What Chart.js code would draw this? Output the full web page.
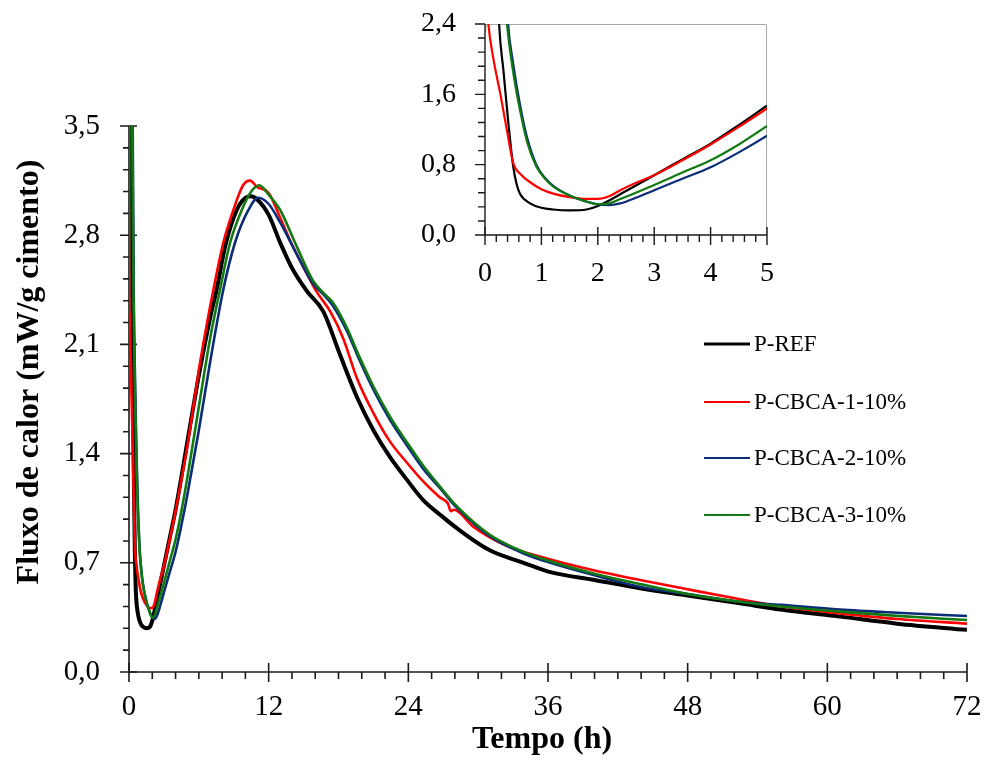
<!DOCTYPE html>
<html>
<head>
<meta charset="utf-8">
<script src="https://cdn.jsdelivr.net/npm/chart.js@4.4.1/dist/chart.umd.min.js"></script>
<style>
  html, body { margin: 0; padding: 0; background: #fff; }
  #wrap { position: relative; width: 986px; height: 774px; }
  #main { position: absolute; left: 0; top: 0; }
  #inset { position: absolute; left: 420px; top: 0; }
</style>
</head>
<body>
<div id="wrap">
  <canvas id="main" width="986" height="774"></canvas>
  <canvas id="inset" width="370" height="300"></canvas>
</div>
<script>
// ---- Data (time in hours, heat flow in mW/g cimento) ----
const seriesLabels = ['P-REF', 'P-CBCA-1-10%', 'P-CBCA-2-10%', 'P-CBCA-3-10%'];

const refT = [0.1, 0.25, 0.33, 0.41, 0.5, 0.56, 0.62, 0.8, 1.0, 1.21, 1.5, 1.8, 2.0, 2.5, 3.0, 3.5, 4.0, 4.5, 5.0, 6.0, 7.0, 7.5, 8.3, 9.25, 10.0, 10.5, 11.0, 12.0, 13.0, 14.0, 15.3, 16.7, 18.1, 19.6, 21.0, 22.4, 23.9, 25.3, 26.7, 28.2, 31.0, 33.9, 36.2, 40.0, 43.9, 48.0, 52.5, 56.0, 61.1, 66.0, 72.0];
const refV = [5.0, 2.4, 1.85, 1.3, 0.78, 0.58, 0.47, 0.36, 0.31, 0.29, 0.28, 0.29, 0.33, 0.50, 0.68, 0.86, 1.04, 1.25, 1.47, 1.90, 2.28, 2.44, 2.74, 2.96, 3.04, 3.05, 3.03, 2.93, 2.75, 2.59, 2.44, 2.31, 2.04, 1.76, 1.55, 1.38, 1.23, 1.10, 1.01, 0.92, 0.78, 0.70, 0.64, 0.59, 0.536, 0.49, 0.44, 0.40, 0.355, 0.31, 0.27];

const c1T = [0.0, 0.06, 0.15, 0.27, 0.4, 0.5, 0.65, 0.8, 1.0, 1.21, 1.5, 1.8, 2.0, 2.2, 2.4, 2.7, 3.0, 3.5, 4.0, 4.5, 5.0, 6.1, 7.25, 8.1, 8.96, 9.8, 10.4, 11.0, 12.0, 13.0, 14.0, 15.3, 16.1, 17.3, 18.4, 19.6, 21.0, 22.4, 23.9, 25.3, 26.7, 27.4, 27.65, 27.9, 29.6, 32.4, 35.3, 40.0, 43.9, 48.0, 52.5, 56.0, 61.1, 66.0, 72.0];
const c1V = [3.0, 2.4, 2.0, 1.61, 1.15, 0.82, 0.68, 0.60, 0.52, 0.47, 0.43, 0.41, 0.41, 0.44, 0.51, 0.60, 0.68, 0.85, 1.03, 1.23, 1.44, 1.98, 2.45, 2.75, 2.96, 3.12, 3.15, 3.11, 3.07, 2.91, 2.74, 2.55, 2.44, 2.31, 2.14, 1.88, 1.66, 1.48, 1.34, 1.22, 1.12, 1.08, 1.03, 1.04, 0.93, 0.81, 0.74, 0.65, 0.59, 0.53, 0.466, 0.42, 0.376, 0.34, 0.31];

const c2T = [0.2, 0.41, 0.5, 0.63, 0.75, 0.91, 1.05, 1.21, 1.5, 1.8, 2.0, 2.2, 2.4, 2.7, 3.0, 3.5, 4.0, 4.5, 5.0, 6.0, 7.0, 8.1, 9.1, 10.25, 11.1, 12.0, 13.0, 14.4, 15.8, 16.7, 17.5, 18.7, 19.8, 21.0, 22.4, 23.9, 25.3, 26.7, 28.2, 31.0, 33.9, 36.2, 40.0, 43.9, 48.0, 52.5, 56.0, 61.1, 66.0, 72.0];
const c2V = [5.0, 2.4, 1.95, 1.45, 1.10, 0.80, 0.66, 0.56, 0.45, 0.38, 0.35, 0.34, 0.36, 0.43, 0.51, 0.64, 0.77, 0.94, 1.13, 1.55, 2.0, 2.45, 2.75, 2.96, 3.04, 3.0, 2.88, 2.68, 2.49, 2.42, 2.35, 2.19, 2.00, 1.81, 1.62, 1.45, 1.30, 1.18, 1.05, 0.87, 0.76, 0.70, 0.62, 0.547, 0.50, 0.45, 0.43, 0.40, 0.38, 0.359];

const c3T = [0.0, 0.1, 0.39, 0.5, 0.62, 0.75, 0.91, 1.05, 1.21, 1.5, 1.75, 2.0, 2.2, 2.4, 3.0, 3.5, 4.0, 4.5, 5.0, 6.0, 7.0, 7.82, 8.68, 9.68, 10.5, 11.2, 12.0, 13.0, 14.4, 15.8, 16.7, 17.5, 18.7, 19.8, 21.0, 22.4, 23.9, 25.3, 26.7, 28.2, 31.0, 33.9, 36.2, 40.0, 43.9, 48.0, 52.5, 56.0, 61.1, 66.0, 72.0];
const c3V = [2.3, 5.0, 2.4, 1.85, 1.42, 1.05, 0.78, 0.65, 0.55, 0.45, 0.39, 0.35, 0.36, 0.41, 0.57, 0.71, 0.85, 1.03, 1.24, 1.70, 2.15, 2.45, 2.75, 2.96, 3.08, 3.12, 3.06, 2.96, 2.73, 2.51, 2.43, 2.37, 2.21, 2.02, 1.83, 1.64, 1.47, 1.32, 1.19, 1.06, 0.88, 0.77, 0.71, 0.63, 0.564, 0.50, 0.45, 0.42, 0.387, 0.36, 0.333];

const seriesColors = ['#000000', '#ff0000', '#0c2c78', '#137a13'];

// axis tick values
const mainXTicks = [0, 12, 24, 36, 48, 60, 72];
const mainYTicks = [0, 0.7, 1.4, 2.1, 2.8, 3.5];
const insetXTicks = [0, 1, 2, 3, 4, 5];
const insetYTicks = [0, 0.8, 1.6, 2.4];

const FONT = "'Liberation Serif', 'Times New Roman', serif";

function pts(t, v) { return t.map((x, i) => ({ x: x, y: v[i] })); }
const allT = [refT, c1T, c2T, c3T];
const allV = [refV, c1V, c2V, c3V];
const drawOrder = [3, 2, 1, 0]; // green drawn on top

function makeDatasets(widths) {
  return seriesLabels.map((lab, i) => ({
    label: lab,
    data: pts(allT[i], allV[i]),
    borderColor: seriesColors[i],
    backgroundColor: seriesColors[i],
    borderWidth: widths[i],
    pointRadius: 0,
    fill: false,
    cubicInterpolationMode: 'monotone',
    order: drawOrder[i]
  }));
}

const fmtComma = v => Number(v).toFixed(1).replace('.', ',');

const axisDecor = {
  id: 'axisDecor',
  beforeDatasetsDraw(chart, args, o) {
    const ctx = chart.ctx, a = chart.chartArea, x = chart.scales.x, y = chart.scales.y;
    ctx.save();
    if (o.box) {
      ctx.strokeStyle = o.boxColor; ctx.lineWidth = 1;
      ctx.beginPath();
      ctx.moveTo(a.left, a.top + 0.5); ctx.lineTo(a.right - 0.5, a.top + 0.5); ctx.lineTo(a.right - 0.5, a.bottom);
      ctx.stroke();
    }
    ctx.strokeStyle = o.color; ctx.lineWidth = o.width;
    ctx.beginPath();
    ctx.moveTo(a.left, a.top); ctx.lineTo(a.left, a.bottom); ctx.lineTo(a.right, a.bottom);
    ctx.stroke();
    const nx = Math.round((x.max - x.min) / o.xMinor);
    const rx = Math.round(o.xMajor / o.xMinor);
    ctx.beginPath();
    for (let i = 0; i <= nx; i++) {
      const px = x.getPixelForValue(x.min + i * o.xMinor);
      if (i % rx === 0) { ctx.moveTo(px, a.bottom - o.xMajUp); ctx.lineTo(px, a.bottom + o.xMajDown); }
      else { ctx.moveTo(px, a.bottom); ctx.lineTo(px, a.bottom + o.xMinLen); }
    }
    const ny = Math.round((y.max - y.min) / o.yMinor);
    const ry = Math.round(o.yMajor / o.yMinor);
    for (let i = 0; i <= ny; i++) {
      const py = y.getPixelForValue(y.min + i * o.yMinor);
      if (i % ry === 0) { ctx.moveTo(a.left - o.yMajLeft, py); ctx.lineTo(a.left + o.yMajRight, py); }
      else { ctx.moveTo(a.left - o.yMinLen, py); ctx.lineTo(a.left, py); }
    }
    ctx.stroke();
    ctx.restore();
  },
  afterDraw(chart, args, o) {
    const ctx = chart.ctx;
    ctx.save();
    if (o.xTitle) {
      ctx.font = 'bold 32px ' + FONT; ctx.fillStyle = '#000';
      ctx.textAlign = 'center'; ctx.textBaseline = 'alphabetic';
      ctx.fillText(o.xTitle.text, o.xTitle.x, o.xTitle.y);
    }
    if (o.yTitle) {
      ctx.save();
      ctx.font = 'bold 32px ' + FONT; ctx.fillStyle = '#000';
      ctx.translate(o.yTitle.x, o.yTitle.y); ctx.rotate(-Math.PI / 2);
      ctx.textAlign = 'center'; ctx.textBaseline = 'alphabetic';
      ctx.fillText(o.yTitle.text, 0, 0);
      ctx.restore();
    }
    if (o.legend) {
      const L = o.legend;
      chart.data.datasets.forEach((ds, i) => {
        const yy = L.rows[i];
        ctx.strokeStyle = ds.borderColor; ctx.lineWidth = L.widths[i];
        ctx.beginPath(); ctx.moveTo(L.x0, yy); ctx.lineTo(L.x1, yy); ctx.stroke();
        ctx.font = '23px ' + FONT; ctx.fillStyle = '#000';
        ctx.textAlign = 'left'; ctx.textBaseline = 'middle';
        ctx.fillText(ds.label, L.tx, yy + 1);
      });
    }
    ctx.restore();
  }
};

// label offset is carried by an invisible tick length (it does not widen the layout padding)
function scaleOpts(min, max, step, fmt, fontSize, offset, fixed, isY) {
  return {
    type: 'linear', min: min, max: max,
    grid: { display: false, drawTicks: true, tickLength: offset },
    border: { display: false },
    ticks: { stepSize: step, callback: fmt, color: '#000', padding: 0, autoSkip: false, maxRotation: 0,
             font: { family: FONT, size: fontSize } },
    afterFit: s => { if (isY) s.width = fixed; else s.height = fixed; }
  };
}

function pinArea(chart, target) {
  for (let k = 0; k < 5; k++) {
    const a = chart.chartArea;
    const p = chart.config.options.layout.padding;
    const dl = target.left - a.left, dt = target.top - a.top;
    const dr = a.right - target.right, db = a.bottom - target.bottom;
    if (Math.abs(dl) + Math.abs(dt) + Math.abs(dr) + Math.abs(db) < 0.5) break;
    chart.config.options.layout.padding = {
      left: Math.max(0, p.left + dl), top: Math.max(0, p.top + dt),
      right: Math.max(0, p.right + dr), bottom: Math.max(0, p.bottom + db)
    };
    chart.update('none');
  }
}

// ---- Main chart ----
const mainChart = new Chart(document.getElementById('main'), {
  type: 'line',
  data: { datasets: makeDatasets([4, 2.6, 2.6, 2.6]) },
  options: {
    responsive: false, animation: false, devicePixelRatio: 1,
    layout: { padding: { left: 0, right: 19, top: 126, bottom: 0 } },
    plugins: {
      legend: { display: false }, tooltip: { enabled: false },
      axisDecor: {
        color: '#1a1a1a', width: 1.6,
        xMinor: 2, xMajor: 12, xMajUp: 9, xMajDown: 10, xMinLen: 7,
        yMinor: 0.14, yMajor: 0.7, yMajLeft: 9, yMajRight: 8, yMinLen: 6,
        xTitle: { text: 'Tempo (h)', x: 542, y: 748 },
        yTitle: { text: 'Fluxo de calor (mW/g cimento)', x: 38, y: 372 },
        legend: { x0: 704, x1: 750, tx: 754, rows: [344, 402, 458, 515], widths: [3.2, 2, 2, 2] }
      }
    },
    scales: {
      x: scaleOpts(0, 72, 12, v => String(v), 29, 18, 102, false),
      y: scaleOpts(0, 3.5, 0.7, fmtComma, 29, 29, 129, true)
    }
  },
  plugins: [axisDecor]
});
pinArea(mainChart, { left: 129, right: 967, top: 126, bottom: 672 });

// ---- Inset chart (0 - 5 h) ----
const insetChart = new Chart(document.getElementById('inset'), {
  type: 'line',
  data: { datasets: makeDatasets([2.2, 2.2, 2.2, 2.2]) },
  options: {
    responsive: false, animation: false, devicePixelRatio: 1,
    layout: { padding: { left: 0, right: 23, top: 24, bottom: 0 } },
    plugins: {
      legend: { display: false }, tooltip: { enabled: false },
      axisDecor: {
        color: '#1a1a1a', width: 1.4, box: true, boxColor: '#a8a8a8',
        xMinor: 0.2, xMajor: 1, xMajUp: 8, xMajDown: 10, xMinLen: 7,
        yMinor: 0.16, yMajor: 0.8, yMajLeft: 10, yMajRight: 0, yMinLen: 7
      }
    },
    scales: {
      x: scaleOpts(0, 5, 1, v => String(v), 28, 22, 65, false),
      y: scaleOpts(0, 2.4, 0.8, fmtComma, 28, 29, 65, true)
    }
  },
  plugins: [axisDecor]
});
pinArea(insetChart, { left: 65, right: 347, top: 24, bottom: 235 });
</script>
</body>
</html>
